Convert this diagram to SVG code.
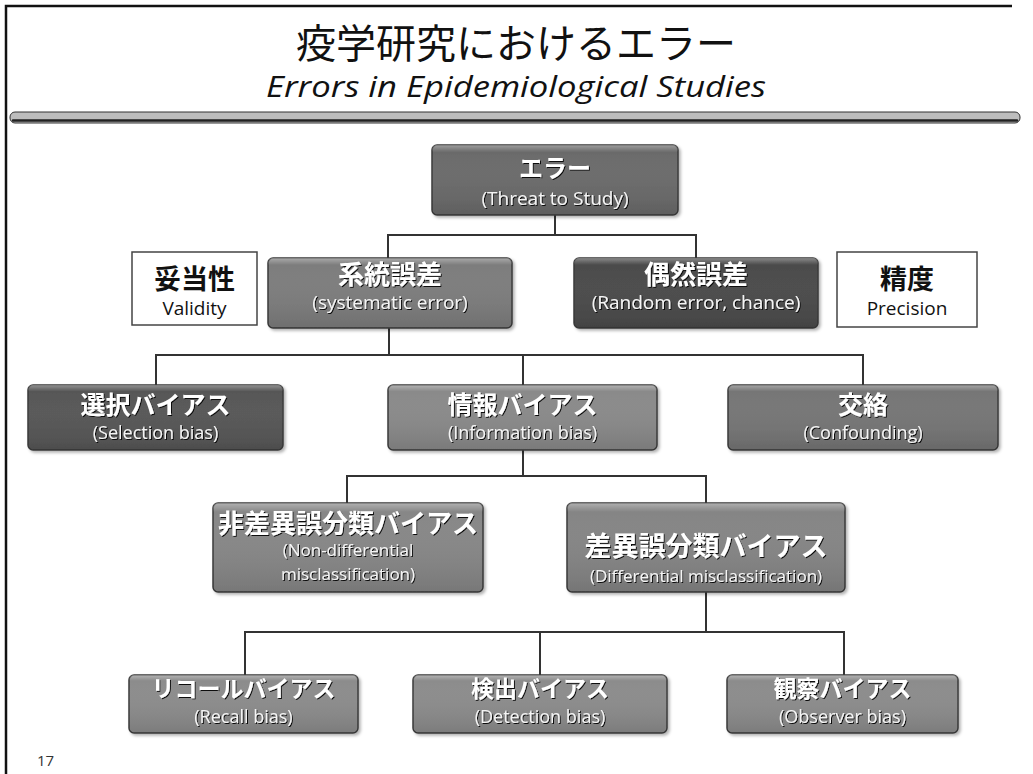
<svg xmlns="http://www.w3.org/2000/svg" width="1033" height="774" viewBox="0 0 1033 774">
<defs>
<style>
.box{stroke:#3a3a3a;stroke-width:1.5}
.gl{fill:url(#gl);stroke:none}
.wbox{fill:#fff;stroke:#444;stroke-width:1.5}
.jp{font-family:"Noto Sans CJK JP",sans-serif;font-weight:700;fill:#fff;text-anchor:middle;filter:url(#sh)}
.en{font-family:"Open Sans","Noto Sans",sans-serif;fill:#f4f4f4;text-anchor:middle;filter:url(#sh)}
.bj{font-family:"Noto Sans CJK JP",sans-serif;font-weight:700;fill:#111;text-anchor:middle}
.be{font-family:"Open Sans","Noto Sans",sans-serif;fill:#111;text-anchor:middle}
.con{fill:none;stroke:#333;stroke-width:2}
</style>
<filter id="sh" x="-10%" y="-30%" width="120%" height="160%">
<feDropShadow dx="1" dy="1" stdDeviation="0.6" flood-color="#000" flood-opacity="0.9"/>
</filter>
<filter id="bs" x="-5%" y="-10%" width="110%" height="125%">
<feDropShadow dx="2" dy="2" stdDeviation="1.5" flood-color="#000" flood-opacity="0.3"/>
</filter>
<linearGradient id="gl" x1="0" y1="0" x2="0" y2="1">
<stop offset="0" stop-color="#fff" stop-opacity="0.35"/>
<stop offset="0.1" stop-color="#fff" stop-opacity="0"/>
<stop offset="1" stop-color="#000" stop-opacity="0.12"/>
</linearGradient>
</defs>
<rect width="1033" height="774" fill="#fff"/>
<path d="M6,774 V6 H1012" fill="none" stroke="#111" stroke-width="2.5"/>
<g id="title">
<text x="516" y="58" font-family="Noto Sans CJK JP, sans-serif" font-size="40" fill="#111" text-anchor="middle">疫学研究におけるエラー</text>
<text x="516" y="97" font-family="Open Sans, Noto Sans, sans-serif" font-style="italic" font-size="29" fill="#111" text-anchor="middle" textLength="500" lengthAdjust="spacingAndGlyphs">Errors in Epidemiological Studies</text>
<rect x="10" y="112" width="1010" height="11" rx="5" fill="#bdbdbd" stroke="#333" stroke-width="1"/>
<line x1="13" y1="120.5" x2="1017" y2="120.5" stroke="#222" stroke-width="2.5" stroke-linecap="round"/>
</g>
<g id="connectors">
<path class="con" d="M555,215 V235 M388,258 V235 H696 V258"/>
<path class="con" d="M389,328 V355 M156,385 V355 H863 V385 M523,355 V385"/>
<path class="con" d="M523,450 V476 M347,503 V476 H706 V503"/>
<path class="con" d="M706,592 V632 M245,675 V632 H844 V675 M540,632 V675"/>
</g>
<g id="n-error" filter="url(#bs)">
<rect class="box" x="432" y="145" width="246" height="70" rx="5" fill="#6b6b6b"/>
<rect class="gl" x="432" y="145" width="246" height="70" rx="5"/>
<text class="jp" x="555" y="177" font-size="24">エラー</text>
<text class="en" x="555" y="205" font-size="19">(Threat to Study)</text>
</g>
<g id="n-validity">
<rect class="wbox" x="132" y="252" width="125" height="73"/>
<text class="bj" x="194.5" y="289" font-size="27">妥当性</text>
<text class="be" x="194.5" y="315" font-size="19">Validity</text>
</g>
<g id="n-systematic" filter="url(#bs)">
<rect class="box" x="268" y="258" width="244" height="70" rx="5" fill="#7d7d7d"/>
<rect class="gl" x="268" y="258" width="244" height="70" rx="5"/>
<text class="jp" x="390" y="284" font-size="26">系統誤差</text>
<text class="en" x="390" y="309" font-size="19">(systematic error)</text>
</g>
<g id="n-random" filter="url(#bs)">
<rect class="box" x="574" y="258" width="244" height="70" rx="5" fill="#4b4b4b"/>
<rect class="gl" x="574" y="258" width="244" height="70" rx="5"/>
<text class="jp" x="696" y="284" font-size="26">偶然誤差</text>
<text class="en" x="696" y="309" font-size="19">(Random error, chance)</text>
</g>
<g id="n-precision">
<rect class="wbox" x="837" y="252" width="140" height="75"/>
<text class="bj" x="907" y="289" font-size="27">精度</text>
<text class="be" x="907" y="315" font-size="19">Precision</text>
</g>
<g id="n-selection" filter="url(#bs)">
<rect class="box" x="28" y="385" width="255" height="65" rx="5" fill="#575757"/>
<rect class="gl" x="28" y="385" width="255" height="65" rx="5"/>
<text class="jp" x="155.5" y="414" font-size="25">選択バイアス</text>
<text class="en" x="155.5" y="439" font-size="18">(Selection bias)</text>
</g>
<g id="n-information" filter="url(#bs)">
<rect class="box" x="388" y="385" width="269" height="65" rx="5" fill="#8a8a8a"/>
<rect class="gl" x="388" y="385" width="269" height="65" rx="5"/>
<text class="jp" x="522.5" y="414" font-size="25">情報バイアス</text>
<text class="en" x="522.5" y="439" font-size="18">(Information bias)</text>
</g>
<g id="n-confounding" filter="url(#bs)">
<rect class="box" x="728" y="385" width="270" height="65" rx="5" fill="#767676"/>
<rect class="gl" x="728" y="385" width="270" height="65" rx="5"/>
<text class="jp" x="863" y="414" font-size="25">交絡</text>
<text class="en" x="863" y="439" font-size="18">(Confounding)</text>
</g>
<g id="n-nondifferential" filter="url(#bs)">
<rect class="box" x="213" y="503" width="270" height="89" rx="5" fill="#878787"/>
<rect class="gl" x="213" y="503" width="270" height="89" rx="5"/>
<text class="jp" x="348" y="533" font-size="26">非差異誤分類バイアス</text>
<text class="en" x="348" y="556" font-size="17">(Non-differential</text>
<text class="en" x="348" y="580" font-size="17">misclassification)</text>
</g>
<g id="n-differential" filter="url(#bs)">
<rect class="box" x="567" y="503" width="278" height="89" rx="5" fill="#858585"/>
<rect class="gl" x="567" y="503" width="278" height="89" rx="5"/>
<text class="jp" x="706" y="556" font-size="27">差異誤分類バイアス</text>
<text class="en" x="706" y="582" font-size="17">(Differential misclassification)</text>
</g>
<g id="n-recall" filter="url(#bs)">
<rect class="box" x="129" y="675" width="229" height="58" rx="5" fill="#8c8c8c"/>
<rect class="gl" x="129" y="675" width="229" height="58" rx="5"/>
<text class="jp" x="243.5" y="697" font-size="23">リコールバイアス</text>
<text class="en" x="243.5" y="723" font-size="18">(Recall bias)</text>
</g>
<g id="n-detection" filter="url(#bs)">
<rect class="box" x="413" y="675" width="254" height="58" rx="5" fill="#8c8c8c"/>
<rect class="gl" x="413" y="675" width="254" height="58" rx="5"/>
<text class="jp" x="540" y="697" font-size="23">検出バイアス</text>
<text class="en" x="540" y="723" font-size="18">(Detection bias)</text>
</g>
<g id="n-observer" filter="url(#bs)">
<rect class="box" x="727" y="675" width="231" height="58" rx="5" fill="#8c8c8c"/>
<rect class="gl" x="727" y="675" width="231" height="58" rx="5"/>
<text class="jp" x="842.5" y="697" font-size="23">観察バイアス</text>
<text class="en" x="842.5" y="723" font-size="18">(Observer bias)</text>
</g>
<text x="37" y="766" font-family="Open Sans, Noto Sans, sans-serif" font-size="15" fill="#333">17</text>
</svg>
